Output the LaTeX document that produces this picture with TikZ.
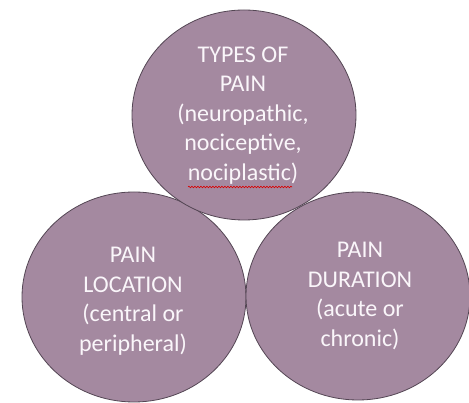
\documentclass[tikz,border=0pt]{standalone}
\usepackage{fontspec}
\setmainfont{Carlito}
\usetikzlibrary{decorations.pathmorphing}
\definecolor{discfill}{RGB}{164,137,160}
\definecolor{discline}{RGB}{84,70,84}
\definecolor{disctext}{RGB}{250,246,250}
\tikzset{
  disc/.style={fill=discfill, draw=discline, line width=0.8pt},
  disclabel/.style={text=disctext, align=center, inner sep=0pt,
    font=\fontsize{24}{29.5}\selectfont},
  squiggle/.style={draw=red!85!black, line width=0.6pt,
    decorate, decoration={snake, amplitude=0.8pt, segment length=3pt}}
}
\begin{document}
\begin{tikzpicture}[x=1pt,y=-1pt]
\useasboundingbox (0,0) rectangle (469,403);
% discs
\draw[disc] (134,297) ellipse [x radius=112, y radius=105];
\draw[disc] (358,296) ellipse [x radius=112, y radius=104];
\draw[disc] (244,115) ellipse [x radius=112, y radius=105];
% labels
\node[disclabel] (types) at (243,115.5) {TYPES OF\\PAIN\\(neuropathic,\\nociceptive,\\nociplastic)};
\node[disclabel] (location) at (133,301) {PAIN\\LOCATION\\(central or\\peripheral)};
\node[disclabel] (duration) at (360,296) {PAIN\\DURATION\\(acute or\\chronic)};
% spell-check underline
\coordinate (sqA) at (188,187);
\coordinate (sqB) at (292,187);
\draw[squiggle] (sqA) -- (sqB);
\end{tikzpicture}
\end{document}
